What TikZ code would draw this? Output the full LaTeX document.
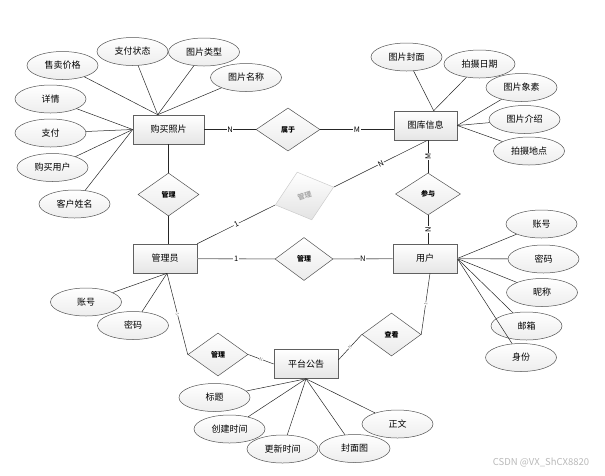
\documentclass[tikz,border=0pt]{standalone}
\usepackage{fontspec}
\setmainfont{Noto Sans CJK SC}
\usetikzlibrary{shapes.geometric,calc}
\begin{document}
\begin{tikzpicture}[x=1pt,y=-1pt,
  ent/.style={draw=gray!75!black, line width=0.6pt, top color=white, bottom color=gray!20,
    minimum width=64pt, minimum height=29pt, inner sep=0pt, font=\fontsize{9}{10}\selectfont},
  attr/.style={ellipse, draw=gray!65!black, line width=0.5pt, top color=white, bottom color=gray!14,
    minimum width=71pt, minimum height=28pt, inner sep=0pt, font=\fontsize{9}{10}\selectfont},
  rel/.style={diamond, aspect=1.4, draw=gray!65!black, line width=0.5pt, top color=white, bottom color=gray!16,
    minimum width=61pt, minimum height=43pt, inner sep=0pt, font=\fontsize{7}{7}\selectfont\bfseries},
  link/.style={draw=black!85, line width=0.5pt},
  heavy/.style={draw=gray!80, line width=1.1pt},
  card/.style={fill=white, inner sep=0.6pt, font=\fontsize{7.5}{7.5}\selectfont},
  tinyl/.style={sloped, fill=white, inner sep=0.3pt, text=gray, font=\fontsize{4.5}{5}\selectfont}
]
\useasboundingbox (0,0) rectangle (605,475);

% entities
\node[ent, minimum width=71pt] (buy) at (168.5,129.5) {购买照片};
\node[ent, minimum width=63pt] (lib) at (425.5,125.5) {图库信息};
\node[ent] (admin) at (165,258.5) {管理员};
\node[ent] (user) at (425,258.5) {用户};
\node[ent] (notice) at (306,364) {平台公告};

% relationships
\node[rel, minimum width=64pt] (shu) at (288,129.5) {属于};
\node[rel] (g1) at (168.5,194.5) {管理};
\node[rel, rotate=17, minimum width=61pt, minimum height=50pt, draw=gray!40, text=gray!65, bottom color=gray!22] (g2) at (304.5,196) {管理};
\node[rel, minimum width=58pt] (g3) at (304,259) {管理};
\node[rel, minimum width=65pt, minimum height=42pt] (cy) at (428,194) {参与};
\node[rel, minimum width=60pt] (g4) at (218,354.5) {管理};
\node[rel, minimum width=59pt] (ck) at (391.5,334.5) {查看};

% attributes of 购买照片
\node[attr] (a1) at (62.5,65.5) {售卖价格};
\node[attr] (a2) at (132.5,51.5) {支付状态};
\node[attr] (a3) at (204,52) {图片类型};
\node[attr] (a4) at (246,77.5) {图片名称};
\node[attr] (a5) at (50.5,99) {详情};
\node[attr] (a6) at (50.5,133) {支付};
\node[attr] (a7) at (52.5,167.5) {购买用户};
\node[attr] (a8) at (74.5,204) {客户姓名};

% attributes of 图库信息
\node[attr] (b1) at (406.5,57) {图片封面};
\node[attr] (b2) at (479.5,64) {拍摄日期};
\node[attr] (b3) at (521.5,87.5) {图片象素};
\node[attr] (b4) at (524.5,119.5) {图片介绍};
\node[attr] (b5) at (529,151) {拍摄地点};

% attributes of 用户
\node[attr] (c1) at (541.5,224) {账号};
\node[attr] (c2) at (543.5,259) {密码};
\node[attr] (c3) at (542,292.5) {昵称};
\node[attr] (c4) at (526.5,326) {邮箱};
\node[attr] (c5) at (521,357.5) {身份};

% attributes of 管理员
\node[attr] (d1) at (86,302) {账号};
\node[attr] (d2) at (133,325.5) {密码};

% attributes of 平台公告
\node[attr] (e1) at (214.5,397.5) {标题};
\node[attr] (e2) at (229.5,429) {创建时间};
\node[attr] (e3) at (282.5,449) {更新时间};
\node[attr] (e4) at (354.5,448.5) {封面图};
\node[attr] (e5) at (397.5,424) {正文};

% convergence points
\coordinate (bt) at ($(buy.north west)+(25,0)$);
\coordinate (lt) at ($(lib.north west)+(40,0)$);
\coordinate (as) at ($(admin.south)+(2,0)$);

% attribute links
\foreach \n in {a1,a2,a3,a4} \draw[link] (\n) -- (bt);
\foreach \n in {a5,a6,a7,a8} \draw[link] (\n) -- (buy.west);
\foreach \n in {b1,b2} \draw[link] (\n) -- (lt);
\foreach \n in {b3,b4,b5} \draw[link] (\n) -- (lib.east);
\foreach \n in {c1,c3,c4,c5} \draw[link] (\n) -- (user.east);
\draw[heavy] (c2) -- (user.east);
\foreach \n in {d1,d2} \draw[link] (\n) -- (as);
\foreach \n in {e1,e2,e3,e4,e5} \draw[link] (\n) -- (notice.south);

% relationship links
\draw[link] (buy) -- node[card]{N} (shu);
\draw[link] (shu.east) -- node[card]{M} (shu.east -| lib.west);
\draw[link] (buy) -- (g1);
\draw[link] (g1.south) -- (g1.south |- admin.north);
\draw[link] (admin.north east) -- node[card, sloped]{1} (g2.west);
\draw[link] (g2.east) -- node[card, sloped]{N} ($(lib.south)+(2,0)$);
\draw[heavy] (admin) -- node[card, text=black]{1} (g3);
\draw[heavy] (g3) -- node[card, text=black]{N} (user);
\draw[link] (cy.north |- lib.south) -- node[card, rotate=90]{M} (cy.north);
\draw[link] (cy.south) -- node[card, rotate=90]{N} (cy.south |- user.north);
\draw[link] (as) -- node[tinyl]{1} (g4.west);
\draw[link] (g4.east) -- node[tinyl]{N} (notice.west);
\draw[link] ($(user.south)+(5,0)$) -- node[tinyl]{1} (ck.east);
\draw[link] (ck.west) -- node[tinyl]{N} ($(notice.east)+(0,-4)$);

% watermark
\node[text=gray!55, font=\fontsize{9.5}{10}\selectfont] (wm) at (541,463) {CSDN @VX\_ShCX8820};
\end{tikzpicture}
\end{document}
